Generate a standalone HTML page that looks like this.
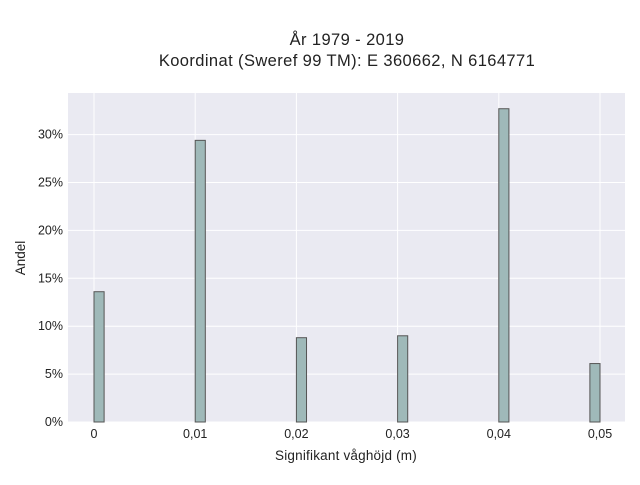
<!DOCTYPE html>
<html><head><meta charset="utf-8"><style>
body{margin:0;background:#fff;}
svg text{font-family:"Liberation Sans",sans-serif;fill:#222;}
</style></head><body>
<svg id="chart" width="640" height="480" xmlns="http://www.w3.org/2000/svg">
<text x="347" y="45" text-anchor="middle" font-size="16.5" letter-spacing="0.4">År 1979 - 2019</text>
<text x="347" y="66" text-anchor="middle" font-size="16.5" letter-spacing="0.4">Koordinat (Sweref 99 TM): E 360662, N 6164771</text>
<rect x="68" y="93" width="557" height="329" fill="#eaeaf2"/>
<g id="grid"></g>
<g id="bars"></g>
<g id="ticks"></g>
<text x="346" y="460" text-anchor="middle" font-size="13.5" letter-spacing="0.2">Signifikant våghöjd (m)</text>
<text transform="translate(25,258) rotate(-90)" text-anchor="middle" font-size="13.5">Andel</text>
</svg>
<script>
const binStarts=[0,0.01,0.02,0.03,0.04,0.049];
const shares=[13.6,29.4,8.8,9.0,32.7,6.1];
const xTicks=[0,0.01,0.02,0.03,0.04,0.05];
const xTickLabels=["0","0,01","0,02","0,03","0,04","0,05"];
const yTicks=[0,5,10,15,20,25,30];
const yTickLabels=["0%","5%","10%","15%","20%","25%","30%"];
const binWidth=0.001;
const X=v=>94+v*10120;
const Y=v=>422-v*9.58;
const ns="http://www.w3.org/2000/svg";
function mk(t,a,p){const e=document.createElementNS(ns,t);for(const k in a)e.setAttribute(k,a[k]);p.appendChild(e);return e;}
const g=document.getElementById('grid'),b=document.getElementById('bars'),tk=document.getElementById('ticks');
xTicks.forEach((v,i)=>{
 const l=mk('line',{x1:X(v),x2:X(v),y1:93,y2:422,stroke:'#fff','stroke-width':1},g);
 
 
 const t=mk('text',{x:X(v),y:438,'text-anchor':'middle','font-size':12.5},tk);
 t.textContent=xTickLabels[i];
 
 
});
yTicks.forEach((v,i)=>{
 const l=mk('line',{x1:68,x2:625,y1:Y(v),y2:Y(v),stroke:'#fff','stroke-width':1},g);
 
 
 const t=mk('text',{x:63,y:Y(v)+4,'text-anchor':'end','font-size':12.5},tk);
 t.textContent=yTickLabels[i];
 
 
});
binStarts.forEach((v,i)=>{
 const x0=X(v),x1=X(v+binWidth);
 const r=mk('rect',{x:x0,y:Y(shares[i]),width:x1-x0,height:422-Y(shares[i]),fill:'#9fb9b9',stroke:'#555','stroke-width':1},b);
 
 
});
</script>
</body></html>
